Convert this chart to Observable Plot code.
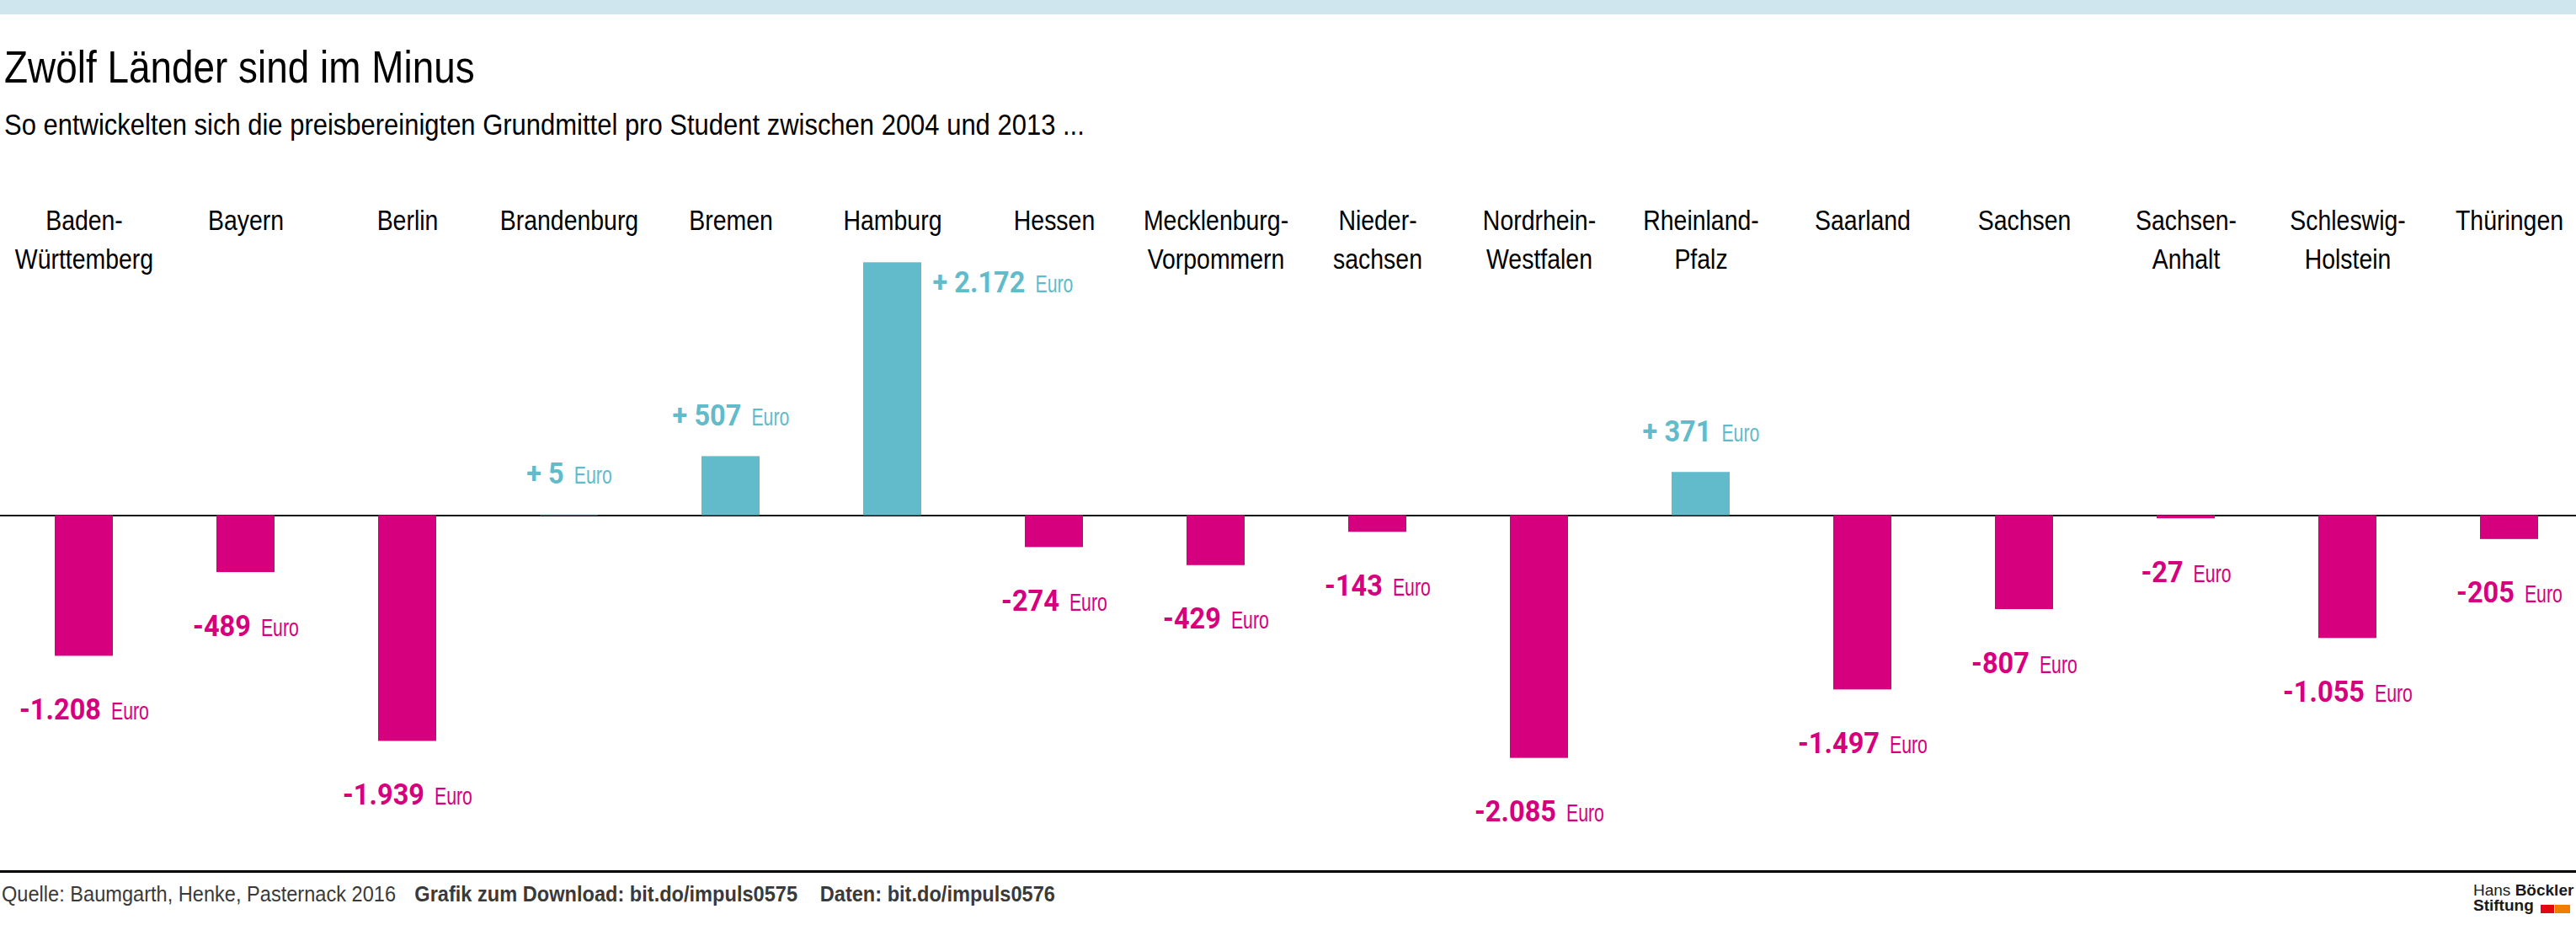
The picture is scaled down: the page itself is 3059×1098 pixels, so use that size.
<!DOCTYPE html>
<html lang="de">
<head>
<meta charset="utf-8">
<script src="https://cdn.jsdelivr.net/npm/d3@7"></script>
<script src="https://cdn.jsdelivr.net/npm/@observablehq/plot@0.6"></script>
<style>
  html, body { margin: 0; padding: 0; background: #fff; }
  #page { position: relative; width: 3059px; height: 1098px; overflow: hidden; background: #fff;
          font-family: "Liberation Sans", Arial, sans-serif; }
  .cond { display: inline-block; transform-origin: 0 0; white-space: nowrap; }
  #band { position: absolute; left: 0; top: 0; width: 3059px; height: 17px; background: #cfe6ef; }
  #title { position: absolute; left: 5px; top: 52px; font-size: 54px; line-height: 1; color: #000; transform: scaleX(0.85); }
  #subtitle { position: absolute; left: 5px; top: 130px; font-size: 35px; line-height: 1; color: #000; transform: scaleX(0.885); }
  #chart { position: absolute; left: 0; top: 200px; }
  #rule { position: absolute; left: 0; top: 1033px; width: 3059px; height: 3px; background: #000; }
  #footer { position: absolute; left: 2px; top: 1048px; font-size: 26.5px; line-height: 1; color: #3a3a3a; transform: scaleX(0.89); }
  #footer b { font-weight: bold; margin-left: 25px; }
  #logo { position: absolute; left: 2937px; top: 1048px; font-family: "Liberation Sans", Arial, sans-serif; font-size: 19px; line-height: 18px; color: #1a1a1a; white-space: nowrap; }
  #logo b { font-weight: bold; }
  .lr { position: absolute; top: 1074px; height: 10px; }
</style>
</head>
<body>
<div id="page">
  <div id="band"></div>
  <div id="title" class="cond">Zwölf Länder sind im Minus</div>
  <div id="subtitle" class="cond">So entwickelten sich die preisbereinigten Grundmittel pro Student zwischen 2004 und 2013 ...</div>
  <div id="chart"></div>
  <div id="rule"></div>
  <div id="footer" class="cond">Quelle: Baumgarth, Henke, Pasternack 2016<b>Grafik zum Download: bit.do/impuls0575</b><b style="margin-left:30px">Daten: bit.do/impuls0576</b></div>
  <div id="logo">Hans <b>Böckler</b><br><b>Stiftung</b></div>
  <div class="lr" style="left:3017px;width:16px;background:#e30613"></div>
  <div class="lr" style="left:3034px;width:18px;background:#ef7d00"></div>
</div>
<script>
// ---- data ----
const states = ["Baden-Württemberg", "Bayern", "Berlin", "Brandenburg", "Bremen", "Hamburg", "Hessen",
  "Mecklenburg-Vorpommern", "Niedersachsen", "Nordrhein-Westfalen", "Rheinland-Pfalz", "Saarland",
  "Sachsen", "Sachsen-Anhalt", "Schleswig-Holstein", "Thüringen"];
const tickLabels = ["Baden-\nWürttemberg", "Bayern", "Berlin", "Brandenburg", "Bremen", "Hamburg", "Hessen",
  "Mecklenburg-\nVorpommern", "Nieder-\nsachsen", "Nordrhein-\nWestfalen", "Rheinland-\nPfalz", "Saarland",
  "Sachsen", "Sachsen-\nAnhalt", "Schleswig-\nHolstein", "Thüringen"];
const values = [-1208, -489, -1939, 5, 507, 2172, -274, -429, -143, -2085, 371, -1497, -807, -27, -1055, -205];
const unit = "Euro";

// ---- styles ----
const POS = "#62bbca";
const NEG = "#d6007e";
const SANS = '"Liberation Sans", Arial, sans-serif';
const NUMFONT = 'Roboto, "Liberation Sans", sans-serif';

const de = d3.formatLocale({decimal: ",", thousands: ".", grouping: [3], currency: ["", " €"], minus: "-"});
const fmt = de.format(",d");
const labelText = v => (v > 0 ? "+ " + fmt(v) : fmt(v)) + " " + unit;

const data = states.map((s, i) => ({state: s, label: tickLabels[i], value: values[i]}));
const maxV = d3.max(values);

const chart = Plot.plot({
  width: 3059,
  height: 820,
  marginTop: 0, marginBottom: 0, marginLeft: 0, marginRight: 0,
  style: {fontFamily: SANS, background: "transparent", overflow: "visible"},
  x: {type: "band", domain: states, range: [-1.48, 3079.48], paddingInner: 0.6417, paddingOuter: 0.3208, align: 0.5, axis: null},
  y: {type: "linear", domain: [-2000, 2000], range: [687.9, 135.1], axis: null},
  marks: [
    Plot.ruleY([0], {stroke: "#111", strokeWidth: 2}),
    Plot.barY(data.filter(d => d.value >= 0), {x: "state", y: "value", fill: POS}),
    Plot.barY(data.filter(d => d.value < 0), {x: "state", y: "value", fill: NEG}),
    Plot.text(data, {x: "state", text: "label", frameAnchor: "top", lineAnchor: "top", lineHeight: 1.41,
      dy: 39.5, fontSize: 32.7, fill: "#000"}),
    Plot.text(data.filter(d => d.value < 0), {x: "state", y: "value", text: d => labelText(d.value),
      lineAnchor: "bottom", dy: 75, fontSize: 35, fill: NEG}),
    Plot.text(data.filter(d => d.value > 0 && d.value < maxV), {x: "state", y: "value", text: d => labelText(d.value),
      lineAnchor: "bottom", dy: -37, fontSize: 35, fill: POS}),
    Plot.text(data.filter(d => d.value === maxV), {x: "state", y: "value", text: d => labelText(d.value),
      lineAnchor: "bottom", textAnchor: "start", dx: 47.5, dy: 35, fontSize: 35, fill: POS})
  ]
});

document.getElementById("chart").appendChild(chart);

// typographic post-processing: condensed look, bold number + light unit
const NS = "http://www.w3.org/2000/svg";
const NUM_SCALE = 0.93, LABEL_SCALE = 0.87;
chart.querySelectorAll("text").forEach(t => {
  const s = t.textContent;
  const tr = t.getAttribute("transform") || "";
  if (s.endsWith(" " + unit)) {
    const k = s.lastIndexOf(" ");
    const num = s.slice(0, k), u = s.slice(k + 1);
    t.textContent = "";
    const a = document.createElementNS(NS, "tspan");
    a.textContent = num;
    a.setAttribute("font-family", NUMFONT);
    a.setAttribute("font-weight", "700");
    a.setAttribute("font-size", "35");
    const b = document.createElementNS(NS, "tspan");
    b.textContent = u;
    b.setAttribute("dx", String(12 / NUM_SCALE));
    b.setAttribute("font-family", SANS);
    b.setAttribute("font-weight", "400");
    b.setAttribute("font-size", "29");
    t.appendChild(a);
    t.appendChild(b);
    b.setAttribute("textLength", String(45 / NUM_SCALE));
    b.setAttribute("lengthAdjust", "spacingAndGlyphs");
    t.setAttribute("transform", tr + ` scale(${NUM_SCALE},1)`);
  } else {
    t.setAttribute("transform", tr + ` scale(${LABEL_SCALE},1)`);
  }
});
</script>
</body>
</html>
